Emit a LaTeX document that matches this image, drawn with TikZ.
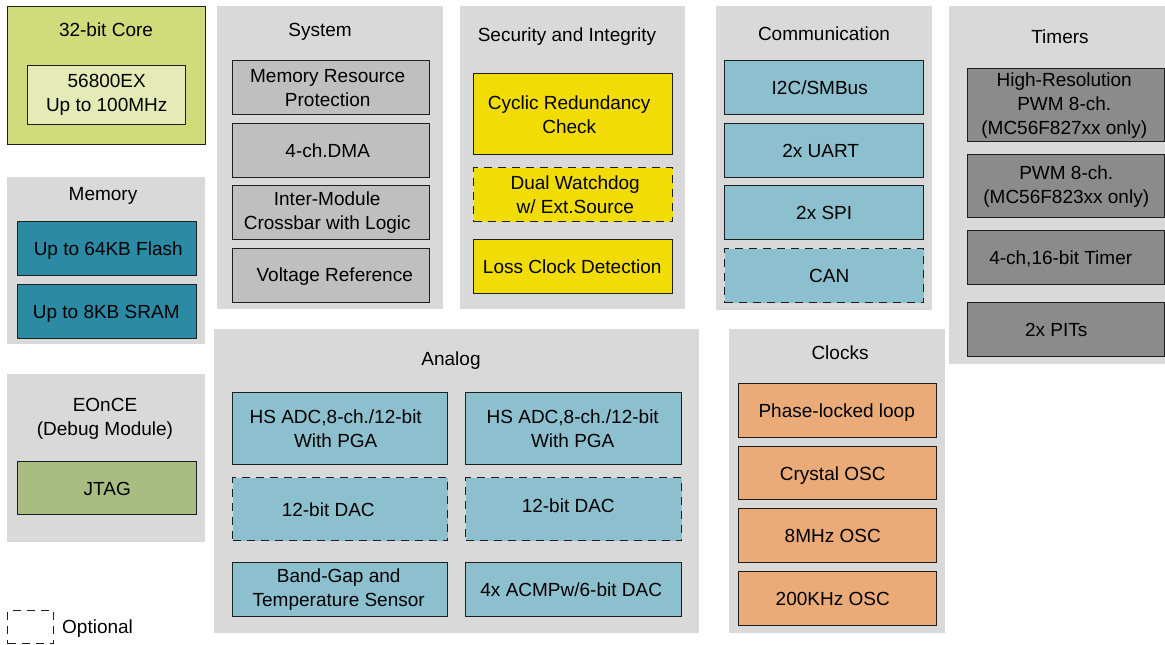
\documentclass[tikz,border=0pt]{standalone}
\usepackage{fontspec}
\setmainfont{Liberation Sans}
\definecolor{grpbg}{HTML}{D9D9D9}
\definecolor{edge}{HTML}{1E1E1E}
\definecolor{coreout}{HTML}{D0DC7C}
\definecolor{corein}{HTML}{E4EBB6}
\definecolor{memfill}{HTML}{2D8AA5}
\definecolor{bluefill}{HTML}{8DC0CF}
\definecolor{yelfill}{HTML}{F2DC05}
\definecolor{orafill}{HTML}{EAAB78}
\definecolor{sysfill}{HTML}{BFBFBF}
\definecolor{timfill}{HTML}{8B8B8B}
\definecolor{jtagfill}{HTML}{A9BD83}

% block with a one-line caption: name, style, x, y, w, h, text, dx, dy
\newcommand\blkone[9]{%
  \node[blk,#2,sz={#5}{#6}] (#1) at (#3,#4) {};
  \node[one] (#1-t) at ([shift={(#8,#9)}]#1.center) {#7};}
% block with a multi-line caption
\newcommand\blkmulti[9]{%
  \node[blk,#2,sz={#5}{#6}] (#1) at (#3,#4) {};
  \node (#1-t) at ([shift={(#8,#9)}]#1.center) {#7};}

\begin{document}
\begin{tikzpicture}[x=1pt,y=-1pt,
  every node/.style={font=\fontsize{19}{24}\selectfont, inner sep=0pt, align=center},
  one/.style={text height=13.6pt, text depth=0pt},
  ttl/.style={anchor=base},
  grp/.style={fill=grpbg, draw=none, anchor=north west},
  blk/.style={draw=edge, line width=1.45pt, anchor=north west},
  opt/.style={dash pattern=on 8pt off 6pt},
  sz/.style 2 args={minimum width=#1pt, minimum height=#2pt}]

% page area
\useasboundingbox[fill=white] (0,0) rectangle (1165,645);

% ---- 32-bit core ----
\node[blk, fill=coreout, sz={198}{138}] (core) at (7,6) {};
\node[ttl] (coret) at (106,36) {32-bit Core};
\blkmulti{cpu}{fill=corein}{27}{65}{158}{59}{56800EX\\Up to 100MHz}{0}{0}

% ---- Memory ----
\node[grp, sz={198}{167}] (mem) at (7,177) {};
\node[ttl] (memt) at (103,200) {Memory};
\blkone{flash}{fill=memfill}{17}{221}{179}{54}{Up to 64KB Flash}{1}{-0.5}
\blkone{sram}{fill=memfill}{17}{284}{179}{54}{Up to 8KB SRAM}{-1}{-0.5}

% ---- EOnCE ----
\node[grp, sz={198}{168}] (eonce) at (7,374) {};
\node (eoncet) at (105,419) {EOnCE\\(Debug Module)};
\blkone{jtag}{fill=jtagfill}{17}{461}{179}{53}{JTAG}{0}{0}

% ---- legend ----
\node[draw=edge, line width=1.45pt, opt, anchor=north west, sz={46}{33}] (legbox) at (7,610) {};
\node[anchor=west, one] (legtxt) at (62,627) {Optional};

% ---- System ----
\node[grp, sz={226}{303}] (sys) at (217,6) {};
\node[ttl] (syst) at (320,36) {System};
\blkmulti{mrp}{fill=sysfill}{232}{60}{197}{54}{Memory Resource\\Protection}{-3.5}{0}
\blkone{dma}{fill=sysfill}{232}{123}{197}{54}{4-ch.DMA}{-3.5}{0}
\blkmulti{xbar}{fill=sysfill}{232}{185}{197}{54}{Inter-Module\\Crossbar with Logic}{-4}{0}
\blkone{vref}{fill=sysfill}{232}{248}{197}{54}{Voltage Reference}{3.5}{-1.5}

% ---- Security and Integrity ----
\node[grp, sz={225}{303}] (sec) at (460,6) {};
\node[ttl] (sect) at (567,41) {Security and Integrity};
\blkmulti{crc}{fill=yelfill}{473}{73}{199}{81}{Cyclic Redundancy\\Check}{-4}{0}
\blkmulti{wdog}{opt, fill=yelfill}{473}{167}{199}{54}{Dual Watchdog\\w/ Ext.Source}{2}{0}
\blkone{lcd}{fill=yelfill}{473}{239}{199}{54}{Loss Clock Detection}{-1}{0}

% ---- Communication ----
\node[grp, sz={216}{304}] (com) at (716,6) {};
\node[ttl] (comt) at (824,40) {Communication};
\blkone{i2c}{fill=bluefill}{724}{60}{199}{54}{I2C/SMBus}{-4.5}{0}
\blkone{uart}{fill=bluefill}{724}{123}{199}{54}{2x UART}{-3.5}{0}
\blkone{spi}{fill=bluefill}{724}{185}{199}{54}{2x SPI}{0}{0}
\blkone{can}{opt, fill=bluefill}{724}{248}{199}{54}{CAN}{5}{0}

% ---- Timers ----
\node[grp, sz={216}{358}] (tim) at (949,6) {};
\node[ttl] (timt) at (1060,43) {Timers};
\blkmulti{hrpwm}{fill=timfill}{967}{68}{197}{73}{High-Resolution\\PWM 8-ch.\\(MC56F827xx only)}{-2}{0}
\blkmulti{pwm}{fill=timfill}{967}{154}{197}{63}{PWM 8-ch.\\(MC56F823xx only)}{0}{0}
\blkone{tmr}{fill=timfill}{967}{230}{197}{54}{4-ch,16-bit Timer}{-5.5}{0}
\blkone{pit}{fill=timfill}{967}{302}{197}{54}{2x PITs}{-10}{0}

% ---- Analog ----
\node[grp, sz={485}{304}] (ana) at (214,329) {};
\node[ttl] (anat) at (451,365) {Analog};
\blkmulti{adca}{fill=bluefill}{232}{392}{215}{72}{HS ADC,8-ch./12-bit\\With PGA}{-4.5}{0}
\blkmulti{adcb}{fill=bluefill}{465}{392}{216}{72}{HS ADC,8-ch./12-bit\\With PGA}{-1}{0}
\blkone{daca}{opt, fill=bluefill}{232}{477}{215}{63}{12-bit DAC}{-12}{0}
\blkone{dacb}{opt, fill=bluefill}{465}{477}{216}{63}{12-bit DAC}{-5.5}{-3.5}
\blkmulti{bg}{fill=bluefill}{232}{562}{215}{54}{Band-Gap and\\Temperature Sensor}{-1.5}{0}
\blkone{acmp}{fill=bluefill}{465}{562}{216}{54}{4x ACMPw/6-bit DAC}{-2.5}{0}

% ---- Clocks ----
\node[grp, sz={216}{304}] (clk) at (729,329) {};
\node[ttl] (clkt) at (840,359) {Clocks};
\blkone{pll}{fill=orafill}{738}{383}{198}{54}{Phase-locked loop}{-1}{0}
\blkone{xosc}{fill=orafill}{738}{446}{198}{53}{Crystal OSC}{-5}{0}
\blkone{osc8}{fill=orafill}{738}{508}{198}{54}{8MHz OSC}{-5}{0}
\blkone{osc200}{fill=orafill}{738}{571}{198}{54}{200KHz OSC}{-5}{0}
\end{tikzpicture}
\end{document}
